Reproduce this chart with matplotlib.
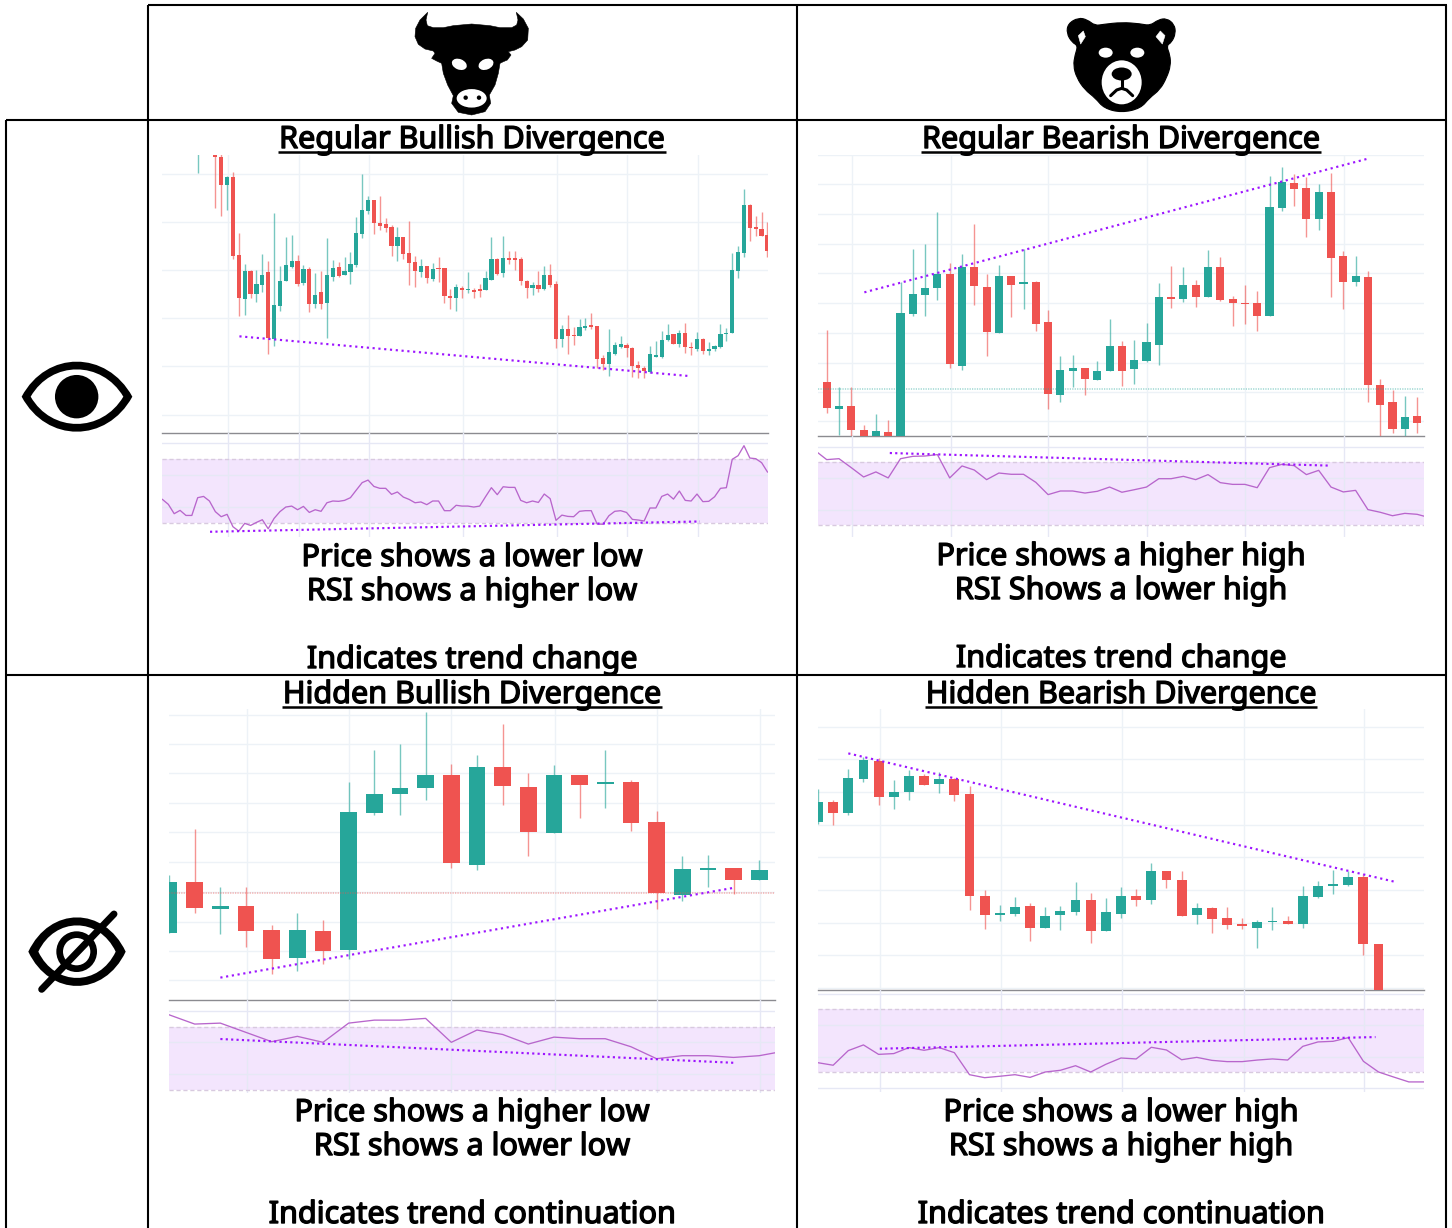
import numpy as np
import matplotlib
matplotlib.use('Agg')
import matplotlib.pyplot as plt
import matplotlib.patheffects as pe
from matplotlib.path import Path
from matplotlib.patches import PathPatch, Ellipse, Circle, Polygon

W, H = 1452, 1228

titles = ['Regular Bullish Divergence', 'Regular Bearish Divergence',
          'Hidden Bullish Divergence', 'Hidden Bearish Divergence']
line1 = ['Price shows a lower low', 'Price shows a higher high',
         'Price shows a higher low', 'Price shows a lower high']
line2 = ['RSI shows a higher low', 'RSI Shows a lower high',
         'RSI shows a lower low', 'RSI shows a higher high']
line3 = ['Indicates trend change', 'Indicates trend change',
         'Indicates trend continuation', 'Indicates trend continuation']

# regular bullish
rbull_open = [995,1010,1010,995,980,894,920,684,554,637,567,596,634,434,533,607,648,666,600,642,538,573,540,619,648,625,635,656,749,818,851,782,777,769,712,740,690,663,635,653,613,645,645,563,556,587,579,581,582,580,611,672,630,676,676,672,608,585,595,582,624,598,434,462,444,442,466,474,471,375,358,388,410,414,407,355,346,334,380,380,429,447,418,452,409,404,434,397,403,408,448,450,638,691,836,769,764,745]
rbull_close = [1010,1020,1020,978,895,920,683,556,637,567,597,624,435,534,608,655,666,598,642,537,565,538,624,645,622,637,657,750,819,851,781,772,766,712,740,688,661,638,651,616,642,643,561,556,589,580,582,574,577,615,672,629,675,671,671,607,585,595,582,624,595,434,462,442,442,468,473,470,373,358,394,415,418,405,352,345,336,389,385,431,444,419,452,408,405,433,398,402,412,449,452,640,693,835,767,764,743,696]
rbull_high = [1020,1030,1030,1000,990,922,933,750,658,639,640,688,668,810,653,738,746,684,656,648,630,637,735,669,664,679,695,798,928,861,851,862,795,774,770,740,788,682,674,653,661,679,645,582,597,593,634,587,597,637,740,675,743,698,698,678,610,605,637,651,658,608,476,505,468,492,497,510,471,386,463,423,441,422,410,368,352,412,428,456,477,447,460,482,425,453,435,425,415,478,467,690,711,883,838,801,813,784]
rbull_low = [930,1000,1000,825,802,820,672,503,505,556,544,575,387,413,516,607,646,593,595,515,527,524,437,606,620,624,598,648,737,807,749,761,753,682,667,674,595,590,619,602,608,605,542,524,518,556,572,556,560,580,611,624,619,658,640,596,556,564,575,579,589,407,410,389,415,442,459,463,347,340,322,385,407,380,320,317,317,330,378,377,428,417,410,392,386,397,389,384,396,407,426,450,616,680,727,743,741,680]
rbull_rsi = [44.7,41.6,35.7,37.8,34.6,34.6,45.8,46.6,43.7,37.0,33.8,35.3,27.5,24.7,29.6,28.3,30.2,31.9,26.2,32.7,37.0,39.9,40.5,38.2,40.3,36.5,38.2,37.2,42.6,43.7,43.5,44.1,45.8,50.6,55.3,56.9,52.9,51.7,51.7,47.9,49.4,46.2,44.7,42.6,43.1,41.4,43.7,43.7,37.6,37.6,41.0,40.5,40.5,39.9,40.5,46.4,52.1,47.7,52.7,52.3,52.3,44.1,42.6,43.7,42.8,48.1,45.2,31.5,34.8,34.0,33.8,37.2,37.6,37.6,29.2,29.0,34.4,37.2,37.6,36.5,32.1,31.7,31.1,39.3,39.3,46.6,48.1,44.9,50.0,44.1,43.7,48.1,43.3,43.5,46.4,51.7,52.1,70.0,72.3,78.6,70.8,70.4,67.9,62.0]

# regular bearish
rbear_open = [148,303,222,232,161,130,155,130,509,567,586,628,354,649,591,452,624,599,604,485,264,338,346,309,336,414,344,369,417,559,554,596,559,649,554,543,541,502,828,904,889,794,876,683,604,619,295,243,164,203]
rbear_close = [305,225,232,160,130,158,130,511,569,588,628,360,649,594,454,624,597,604,480,269,340,346,312,338,414,338,372,425,559,554,596,559,649,551,541,538,502,831,907,886,794,876,678,604,624,295,235,164,200,180]
rbear_high = [305,462,290,290,175,208,190,605,704,720,817,662,688,780,630,657,624,704,609,520,383,385,346,369,493,427,430,483,602,652,649,610,702,679,562,596,578,925,950,930,920,900,933,697,684,638,312,280,262,259]
rbear_low = [148,210,145,142,130,130,130,130,503,504,552,346,340,535,383,452,499,525,457,222,245,288,265,309,336,293,298,364,356,528,545,530,559,548,473,480,459,502,820,833,741,762,559,525,593,243,142,150,142,150]
rbear_rsi = [77.8,71.7,72.3,66.6,60.7,63.9,60.1,72.3,73.8,74.0,74.9,60.1,67.7,65.1,59.0,63.2,62.4,62.4,57.3,49.5,51.8,51.8,50.5,51.6,54.3,51.0,52.6,54.3,59.6,59.6,61.1,59.0,62.2,57.1,56.0,56.0,53.9,66.6,68.7,67.9,62.2,64.9,54.3,51.2,52.2,40.0,38.3,36.1,37.6,37.0,34.9]

# hidden bullish
hbull_open = [316,469,388,398,326,243,323,266,676,732,750,791,519,813,755,617,789,762,768,649,432,506,511,475]
hbull_close = [469,391,398,324,240,326,263,678,733,752,791,525,813,758,620,789,760,768,647,438,509,512,477,506]
hbull_high = [490,628,456,456,340,376,357,770,865,882,979,823,850,943,795,820,789,865,774,683,548,551,511,535]
hbull_low = [316,377,313,276,194,203,224,239,670,670,715,511,506,699,548,615,662,691,623,390,412,454,433,475]
hbull_rsi = [77.6,71.7,72.3,66.4,60.5,63.9,60.1,72.3,74.2,74.2,75.3,60.1,67.9,65.1,59.0,63.4,62.4,62.4,57.3,49.7,51.6,51.6,50.5,51.6,54.6]

# hidden bearish
hbear_open = [650,710,675,779,833,724,739,786,763,778,733,429,372,375,398,331,370,380,416,322,375,427,415,503,477,372,393,361,343,333,349,353,343,425,458,461,485,285]
hbear_close = [710,676,781,835,724,739,786,761,778,729,428,372,377,395,331,368,382,416,322,379,427,415,503,475,369,393,359,341,337,350,353,343,427,459,464,485,285,130]
hbear_high = [747,714,808,845,840,776,806,792,798,782,757,446,401,425,406,396,398,470,438,423,456,448,525,503,502,406,396,394,361,356,396,369,459,474,505,503,493,285]
hbear_low = [642,639,670,769,700,688,716,761,737,713,385,330,353,369,293,331,325,370,288,322,362,398,404,452,367,343,316,329,329,272,325,343,332,422,433,459,250,130]
hbear_rsi = [36.1,34.5,43.8,47.4,41.4,41.9,45.7,44.0,45.7,42.5,28.5,26.6,27.5,28.5,26.8,30.2,31.3,34.2,30.2,35.1,39.1,38.5,45.9,44.2,38.0,39.5,37.6,36.8,36.8,37.8,38.5,37.8,46.5,49.3,49.7,52.0,37.0,30.2,27.0,23.9,23.9]

# dotted divergence lines: candle index and value at both ends
rbull_trend_x, rbull_trend_y = [7.1, 83.6], [441, 322]
rbull_rsi_trend_x, rbull_rsi_trend_y = [2.1, 85.5], [24.3, 30.8]
rbear_trend_x, rbear_trend_y = [3.06, 43.9], [574, 975]
rbear_rsi_trend_x, rbear_rsi_trend_y = [5.13, 40.9], [75.9, 67.9]
hbull_trend_x, hbull_trend_y = [1, 21], [183, 452]
hbull_rsi_trend_x, hbull_rsi_trend_y = [1, 21], [62.2, 47.1]
hbear_trend_x, hbear_trend_y = [1, 37], [855, 471]
hbear_rsi_trend_x, hbear_rsi_trend_y = [3.08, 35.8], [45.0, 52.4]

# horizontal grid of the price panes
rbull_grid = [928, 783, 639, 496, 351, 206]
rbear_grid = [987, 899, 809, 719, 632, 543, 453, 363, 274, 186]
hbull_grid = [970, 882, 795, 706, 618, 529, 440, 351, 264, 175]
hbear_grid = [933, 837, 738, 641, 543, 445, 348, 250, 153]
rsi_grid = [80, 60, 40, 20]

GREEN = '#26a69a'
RED = '#ef5350'
PURPLE = '#9d14ff'
GRID = '#edf2f7'

plt.rcParams['font.family'] = ['Noto Sans', 'DejaVu Sans']
fig = plt.figure(figsize=(W / 100, H / 100), dpi=100)


def pane(x0, y0, x1, y1):
    ax = fig.add_axes([x0 / W, 1 - y1 / H, (x1 - x0) / W, (y1 - y0) / H])
    ax.patch.set_alpha(0)
    for s in ax.spines.values():
        s.set_visible(False)
    ax.tick_params(length=0, labelbottom=False, labelleft=False)
    ax.set_axisbelow(True)
    return ax


def dotted(ax, x, y, spacing=2.7):
    ax.plot(x, y, color=PURPLE, lw=1.55, ls=(0, (1, spacing - 1)), dash_capstyle='butt', zorder=6)


def first_rsi(first, rsi):
    # the regular bullish pane has six more bars left of the first candle
    start = -6 if len(rsi) > 100 else first
    return start + np.arange(len(rsi))


def draw_panel(box, split, bottom, first, x_zero, step, width, price_lim, rsi_lim,
               o, h, l, c, rsi, grid, vgrid, trend, rsi_trend, last=None):
    x0, y0, x1 = box
    xlim = ((x0 - x_zero) / step, (x1 - x_zero) / step)
    vticks = [(v - x_zero) / step for v in vgrid]

    ax = pane(x0, y0, x1, split)
    xs = first + np.arange(len(o))
    o, h, l, c = map(np.array, (o, h, l, c))
    colors = np.where(c >= o, GREEN, RED)
    ax.vlines(xs, l, h, colors=colors, lw=1.0, alpha=0.62, zorder=3)
    ax.bar(xs, np.abs(c - o), bottom=np.minimum(o, c), width=width, color=colors, lw=0, zorder=4)
    if last is not None:
        ax.axhline(last[0], color=last[1], lw=1.1, ls=(0, (0.8, 0.8)), alpha=0.45, zorder=5)
    dotted(ax, *trend)
    ax.set_xlim(xlim)
    ax.set_ylim(price_lim)
    ax.set_xticks(vticks)
    ax.set_yticks(grid)
    ax.grid(color=GRID, lw=1.0)
    ax.spines['bottom'].set_visible(True)
    ax.spines['bottom'].set_color('#8b8b90')
    ax.spines['bottom'].set_linewidth(1.0)

    rx = pane(x0, split, x1, bottom)
    rx.set_axisbelow('line')
    rx.axhspan(30, 70, color='#f3e5fd', lw=0, zorder=1)
    rx.axhline(70, color='#d8cadf', lw=1.0, ls=(0, (3, 2)), zorder=2)
    rx.axhline(30, color='#d8cadf', lw=1.0, ls=(0, (3, 2)), zorder=2)
    rx.set_xticks(vticks)
    rx.set_yticks(rsi_grid)
    rx.grid(color='#e6e8f5', lw=1.0)
    rx.plot(first_rsi(first, rsi), rsi, color='#b866cc', lw=0.95, zorder=3)
    dotted(rx, *rsi_trend, spacing=2.5)
    rx.set_xlim(xlim)
    rx.set_ylim(rsi_lim)


draw_panel((162, 155, 768), 433, 537, 0, 197.7, 5.874, 0.72, (151, 985), (21, 86.6),
           rbull_open, rbull_high, rbull_low, rbull_close, rbull_rsi, rbull_grid,
           [228, 299, 369, 463, 557, 627, 698],
           (rbull_trend_x, rbull_trend_y), (rbull_rsi_trend_x, rbull_rsi_trend_y))
draw_panel((818, 155, 1424), 436, 537, -1, 826.7, 12.3, 0.66, (142, 985), (22.6, 86.7),
           rbear_open, rbear_high, rbear_low, rbear_close, rbear_rsi, rbear_grid,
           [852.3, 951, 1048.3, 1147.3, 1245.3, 1344],
           (rbear_trend_x, rbear_trend_y), (rbear_rsi_trend_x, rbear_rsi_trend_y), last=(284, GREEN))
draw_panel((169, 709, 775), 1000.3, 1093, -1, 194.7, 25.66, 0.65, (115, 988), (27.9, 86.8),
           hbull_open, hbull_high, hbull_low, hbull_close, hbull_rsi, hbull_grid,
           [246.5, 349.3, 451.4, 554.6, 657, 760],
           (hbull_trend_x, hbull_trend_y), (hbull_rsi_trend_x, hbull_rsi_trend_y), last=(436, RED))
draw_panel((818, 709, 1424), 990.3, 1092, -1, 833.15, 15.15, 0.65, (145, 988), (17.5, 82.1),
           hbear_open, hbear_high, hbear_low, hbear_close, hbear_rsi, hbear_grid,
           [879.8, 1000.6, 1122.2, 1243.8, 1364.2],
           (hbear_trend_x, hbear_trend_y), (hbear_rsi_trend_x, hbear_rsi_trend_y))

# overlay in image pixels for the table, the captions and the icons
top = fig.add_axes([0, 0, 1, 1], zorder=10)
top.patch.set_alpha(0)
top.axis('off')
top.set_xlim(0, W)
top.set_ylim(H, 0)

for x, y0 in [(6, 120), (148, 5), (797, 5), (1446, 5)]:
    top.plot([x, x], [y0, H], color='black', lw=1.5, solid_capstyle='butt')
for y, x0 in [(5, 148), (120, 6), (675, 6)]:
    top.plot([x0, 1447], [y, y], color='black', lw=1.5, solid_capstyle='butt')

renderer = fig.canvas.get_renderer()
FS = 22.0
heavy = [pe.withStroke(linewidth=1.0, foreground='black')]
columns = [472, 1121, 472, 1121]
title_y = [148, 148, 703, 703]
text_y = [(566, 600, 668), (565, 599, 667), (1121, 1155, 1223), (1121, 1155, 1223)]
for i in range(4):
    t = top.text(columns[i], title_y[i], titles[i], ha='center', va='baseline', fontsize=FS, path_effects=heavy)
    box = t.get_window_extent(renderer)
    top.plot([box.x0 - 1, box.x1 + 1], [title_y[i] + 3.7] * 2, color='black', lw=1.8, solid_capstyle='butt')
    for y, s in zip(text_y[i], (line1[i], line2[i], line3[i])):
        top.text(columns[i], y, s, ha='center', va='baseline', fontsize=FS, path_effects=heavy)


def zoomed(pts, ox, oy):
    return [(ox + x / 3, oy + y / 3) for x, y in pts]


def shape(pts, ox, oy, color='black'):
    top.add_patch(Polygon(zoomed(pts, ox, oy), closed=True, fc=color, ec=color, lw=0.4, joinstyle='round'))


def blob(pts, ox, oy, color='black'):
    # closed outline rounded through the midpoints of its corners
    p = np.array(zoomed(pts, ox, oy))
    mid = (p + np.roll(p, -1, axis=0)) / 2
    verts, codes = [mid[-1]], [Path.MOVETO]
    for corner, m in zip(p, mid):
        verts += [corner, m]
        codes += [Path.CURVE3, Path.CURVE3]
    top.add_patch(PathPatch(Path(verts, codes), fc=color, ec=color, lw=0.8))


# bull
bull = [(83,22),(78,45),(82,62),(100,68),(130,68),(160,62),(215,57),(270,62),(300,68),(335,68),(350,60),(354,45),(349,22),
        (370,42),(385,70),(383,105),(365,125),(345,135),(325,140),(333,150),(322,165),(310,170),(300,175),(295,205),(285,240),
        (268,270),(272,295),(255,320),(215,330),(175,322),(155,295),(160,272),(143,240),(130,205),(125,175),(110,168),(95,160),
        (105,145),(100,138),(75,132),(55,118),(45,95),(47,70),(60,45)]
shape(bull, 400, 5)
top.add_patch(Ellipse((400 + 178 / 3, 5 + 178 / 3), 15.5, 10.5, angle=22, fc='white', ec='none'))
top.add_patch(Ellipse((400 + 258 / 3, 5 + 178 / 3), 15.5, 10.5, angle=-22, fc='white', ec='none'))
top.add_patch(Ellipse((400 + 215 / 3, 5 + 280 / 3), 30, 18.5, fc='white', ec='none'))
top.add_patch(Circle((400 + 197 / 3, 5 + 278 / 3), 2.2, fc='black', ec='none'))
top.add_patch(Circle((400 + 237 / 3, 5 + 278 / 3), 2.2, fc='black', ec='none'))

# bear
bear = [(85,38),(112,44),(135,62),(160,58),(215,52),(270,56),(300,62),(325,44),(350,40),(373,58),(377,85),(365,112),(349,122),
        (360,150),(362,182),(350,218),(330,254),(298,279),(272,310),(215,323),(162,310),(136,279),(104,254),(80,218),(70,182),
        (75,150),(84,122),(66,112),(50,85),(54,56)]
blob(bear, 1050, 5)
shape([(85,92),(100,78),(106,95),(92,117)], 1050, 5, 'white')
shape([(345,92),(331,78),(318,95),(337,117)], 1050, 5, 'white')
top.add_patch(Ellipse((1050 + 167 / 3, 5 + 143 / 3), 14, 10, fc='white', ec='none'))
top.add_patch(Ellipse((1050 + 262 / 3, 5 + 143 / 3), 14, 10, fc='white', ec='none'))
top.add_patch(Ellipse((1050 + 215 / 3, 5 + 232 / 3), 40, 44, fc='white', ec='none'))
top.add_patch(Ellipse((1050 + 215 / 3, 5 + 207 / 3), 20, 13, fc='black', ec='none'))
nose = np.array(zoomed([(215,215),(215,250)], 1050, 5))
top.plot(nose[:, 0], nose[:, 1], color='black', lw=2.2)
frown = np.array(zoomed([(182,272),(200,255),(215,250),(230,255),(248,272)], 1050, 5))
top.plot(frown[:, 0], frown[:, 1], color='black', lw=2.2, solid_capstyle='round')


def lens(ox, oy, left, right, cy, d, c1, c2, color):
    pts = [(left, cy), (c1, cy - d), (c2, cy - d), (right, cy), (c2, cy + d), (c1, cy + d), (left, cy), (left, cy)]
    codes = [Path.MOVETO, Path.CURVE4, Path.CURVE4, Path.CURVE4, Path.CURVE4, Path.CURVE4, Path.CURVE4, Path.CLOSEPOLY]
    top.add_patch(PathPatch(Path(zoomed(pts, ox, oy), codes), fc=color, ec='none'))


# eye
lens(10, 350, 35, 367, 140, 140, 110, 290, 'black')
lens(10, 350, 62, 340, 140, 109, 125, 275, 'white')
top.add_patch(Circle((10 + 200 / 3, 350 + 140 / 3), 21.7, fc='black', ec='none'))

# crossed out eye
lens(10, 900, 55, 347, 155, 137, 120, 282, 'black')
lens(10, 900, 85, 317, 155, 105, 135, 267, 'white')
top.add_patch(Circle((10 + 200 / 3, 900 + 155 / 3), 17, fc='none', ec='black', lw=4.8))
slash = np.array(zoomed([(95,268),(312,42)], 10, 900))
top.plot(slash[:, 0], slash[:, 1], color='black', lw=5.0, solid_capstyle='round')

fig.savefig('out.png', dpi=100)
